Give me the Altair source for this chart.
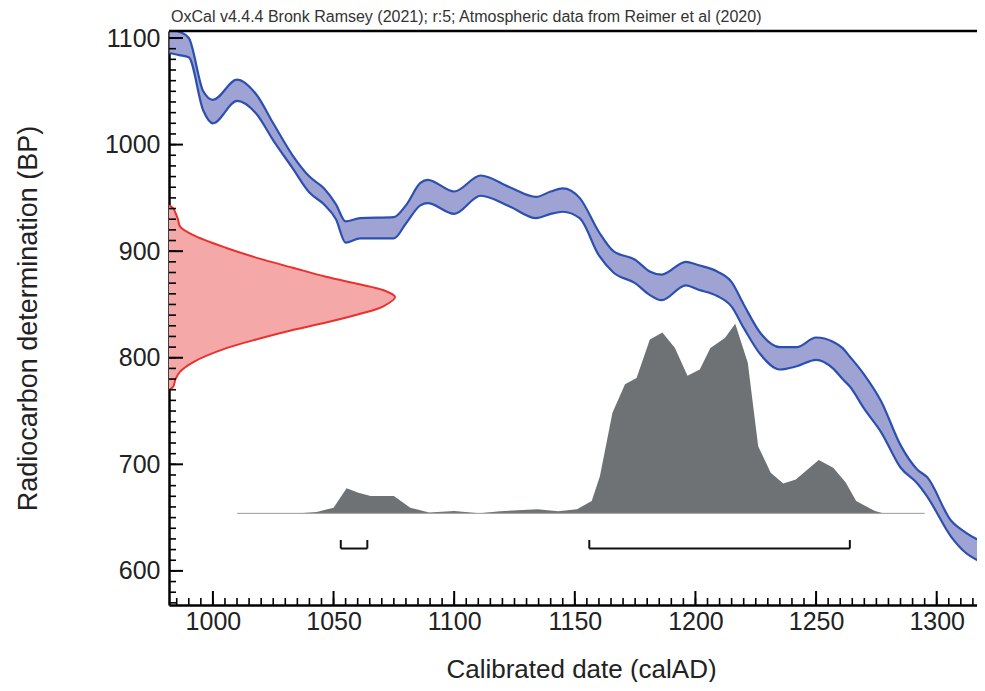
import altair as alt
import pandas as pd

# ---------------- data ----------------
# calibration curve (IntCal20 band): calendar year, upper and lower edge in BP
cal_years = [982, 986, 990, 996, 1000, 1010, 1018, 1025, 1033, 1040,
             1046, 1051, 1055, 1061, 1075, 1080, 1086, 1089, 1100, 1111,
             1123, 1134, 1140, 1145, 1152, 1160, 1166, 1175, 1181, 1186,
             1196, 1201, 1209, 1215, 1220, 1227, 1235, 1242, 1250, 1257,
             1261, 1264, 1270, 1277, 1285, 1292, 1296, 1306, 1312, 1320]
curve_upper = [1108, 1106, 1100, 1050, 1042, 1061, 1047, 1020, 990, 970,
               959, 944, 928, 931, 932, 943, 964, 967, 956, 971,
               960, 951, 956, 959, 950, 918, 900, 892, 881, 878,
               890, 887, 881, 871, 850, 823, 810, 810, 819, 815,
               809, 801, 784, 759, 718, 695, 688, 647, 636, 626]
curve_lower = [1086, 1084, 1082, 1032, 1020, 1041, 1029, 1004, 978, 955,
               944, 930, 908, 912, 912, 926, 943, 945, 935, 952,
               942, 931, 935, 937, 931, 896, 880, 870, 859, 854,
               868, 864, 858, 848, 828, 803, 789, 792, 798, 790,
               780, 773, 752, 730, 697, 682, 670, 632, 617, 607]

# radiocarbon measurement distribution (drawn against the y axis)
red_bp = [943, 940, 930, 923, 915, 903, 893, 884.5, 876, 869, 863.6, 857,
          848, 841, 833, 826, 818, 809, 796, 787, 780, 773, 770]
red_extent = [982.0, 983.6, 985.5, 986.4, 991.9, 1005.6, 1019.4, 1033.1, 1046.9,
              1060.7, 1070.4, 1075.5, 1070.4, 1060.7, 1046.9, 1033.1, 1019.4,
              1005.6, 991.9, 986.4, 984.5, 983.6, 982.0]

# calibrated probability distribution (relative to its peak)
grey_years = [1036, 1043, 1050, 1055.4, 1060.3, 1065.4, 1075, 1081.8, 1089.6, 1100,
              1110.4, 1119, 1134.5, 1143.1, 1150.9, 1157, 1160.4, 1165.6, 1170.8, 1175.6,
              1181.1, 1186.3, 1191.5, 1196.7, 1201.8, 1206.2, 1212.2, 1216.5, 1221.7, 1226,
              1231.2, 1236.4, 1241.6, 1251.1, 1257.1, 1262.3, 1266.6, 1274.4, 1277.8]
grey_prob = [0, 0.007, 0.03, 0.132, 0.109, 0.091, 0.091, 0.03, 0.004, 0.012,
             0, 0.011, 0.021, 0.011, 0.021, 0.065, 0.196, 0.53, 0.68, 0.714,
             0.916, 0.954, 0.872, 0.726, 0.758, 0.872, 0.924, 1.0, 0.794, 0.354,
             0.214, 0.157, 0.179, 0.281, 0.241, 0.162, 0.065, 0.012, 0]
grey_span = [1010, 1295]
GREY_BASE = 654
GREY_PEAK = 178

# 95.4% ranges
range_start = [1053, 1156]
range_end = [1064, 1264]
RANGE_BP = 621
RANGE_TICK_BP = 629

# axes
cal_major = [1000, 1050, 1100, 1150, 1200, 1250, 1300]
cal_minor = list(range(985, 1321, 5))
bp_major = [600, 700, 800, 900, 1000, 1100]
bp_minor = list(range(570, 1101, 10))

TITLE = "OxCal v4.4.4 Bronk Ramsey (2021); r:5; Atmospheric data from Reimer et al (2020)"

# ---------------- layout ----------------
W, H = 808, 574
FONT = "Liberation Sans"
X_DOMAIN = [981.8, 1316.7]
Y_DOMAIN = [568, 1106.6]
xs = alt.Scale(domain=X_DOMAIN, nice=False, zero=False)
ys = alt.Scale(domain=Y_DOMAIN, nice=False, zero=False)

x_axis = alt.Axis(values=cal_major, format="d", title="Calibrated date (calAD)",
                  ticks=False, grid=False, domainColor="black", domainWidth=2.5,
                  labelFontSize=25, labelFont=FONT, labelColor="#222", labelPadding=4,
                  titleFontSize=26, titleFont=FONT, titleFontWeight="normal",
                  titleColor="#222", titleX=412, titleY=72, titleAlign="center",
                  titleBaseline="alphabetic")
y_axis = alt.Axis(values=bp_major, format="d", title="Radiocarbon determination (BP)",
                  ticks=False, grid=False, domainColor="black", domainWidth=2.5,
                  labelFontSize=25, labelFont=FONT, labelColor="#222", labelPadding=9,
                  titleFontSize=27, titleFont=FONT, titleFontWeight="normal",
                  titleColor="#222", titleX=-141, titleY=287, titleAlign="center",
                  titleBaseline="middle", titleAngle=270)


def X(field, **kw):
    return alt.X(field, type="quantitative", scale=xs, axis=x_axis, **kw)


def Y(field, **kw):
    return alt.Y(field, type="quantitative", scale=ys, axis=y_axis, **kw)


band_df = pd.DataFrame({"year": cal_years, "upper": curve_upper, "lower": curve_lower})
red_df = pd.DataFrame({"bp": red_bp, "ext": red_extent})
red_df["base"] = X_DOMAIN[0]
red_df["i"] = range(len(red_df))
grey_df = pd.DataFrame({"year": grey_years, "prob": grey_prob})
grey_df["top"] = GREY_BASE + grey_df["prob"] * GREY_PEAK
span_df = pd.DataFrame({"a": [grey_span[0]], "b": [grey_span[1]]})
rng_df = pd.DataFrame({"a": range_start, "b": range_end})
rng_ends = pd.DataFrame({"x": range_start + range_end})

grey_area = alt.Chart(grey_df).mark_area(color="#6f7274", clip=True).encode(
    x=X("year"), y=Y("top"), y2=alt.datum(GREY_BASE))
grey_base = alt.Chart(span_df).mark_rule(color="#9a9a9a", strokeWidth=1).encode(
    x=X("a"), x2="b", y=alt.datum(GREY_BASE))

red_area = alt.Chart(red_df).mark_area(orient="horizontal", color="#f5a8a8", opacity=1,
                                       interpolate="monotone", clip=True).encode(
    y=Y("bp"), x=X("ext"), x2="base")
red_line = alt.Chart(red_df).mark_line(color="#e8322d", strokeWidth=2,
                                       interpolate="catmull-rom", clip=True).encode(
    y=Y("bp"), x=X("ext"), order="i")

band_area = alt.Chart(band_df).mark_area(color="#9fa3d3", interpolate="monotone",
                                         clip=True).encode(
    x=X("year"), y=Y("upper"), y2="lower")
band_up = alt.Chart(band_df).mark_line(color="#2c50b0", strokeWidth=2.2,
                                       interpolate="monotone", clip=True).encode(
    x=X("year"), y=Y("upper"))
band_lo = alt.Chart(band_df).mark_line(color="#2c50b0", strokeWidth=2.2,
                                       interpolate="monotone", clip=True).encode(
    x=X("year"), y=Y("lower"))

rng_h = alt.Chart(rng_df).mark_rule(color="#111", strokeWidth=2).encode(
    x=X("a"), x2="b", y=alt.datum(RANGE_BP))
rng_v = alt.Chart(rng_ends).mark_rule(color="#111", strokeWidth=2).encode(
    x=X("x"), y=alt.datum(RANGE_BP), y2=alt.datum(RANGE_TICK_BP))

ytick_major = alt.Chart(pd.DataFrame({"v": bp_major})).mark_rule(color="black", strokeWidth=2).encode(
    y=Y("v"), x=alt.value(0), x2=alt.value(14))
ytick_minor = alt.Chart(pd.DataFrame({"v": bp_minor})).mark_rule(color="black", strokeWidth=1.6).encode(
    y=Y("v"), x=alt.value(0), x2=alt.value(7))
xtick_major = alt.Chart(pd.DataFrame({"v": cal_major})).mark_rule(color="black", strokeWidth=2).encode(
    x=X("v"), y=alt.value(H), y2=alt.value(H - 14))
xtick_minor = alt.Chart(pd.DataFrame({"v": cal_minor})).mark_rule(color="black", strokeWidth=1.6).encode(
    x=X("v"), y=alt.value(H), y2=alt.value(H - 7))

top_border = alt.Chart(pd.DataFrame({"k": [0]})).mark_rule(color="black", strokeWidth=2.5).encode(
    x=alt.value(0), x2=alt.value(W), y=alt.value(0))

chart = alt.layer(
    grey_area, grey_base, red_area, red_line, band_area, band_up, band_lo,
    rng_h, rng_v, ytick_minor, ytick_major, xtick_minor, xtick_major, top_border
).properties(
    width=W, height=H,
    title=alt.TitleParams(TITLE, anchor="start", frame="group", fontSize=16, font=FONT,
                          fontWeight="normal", color="#333", offset=1, dx=2),
    autosize=alt.AutoSizeParams(type="none"),
    padding={"left": 161, "top": 23, "right": 0, "bottom": 77},
).configure_view(stroke=None).configure(background="white")

chart.save("out.html", embed_options={"renderer": "svg", "actions": False})
